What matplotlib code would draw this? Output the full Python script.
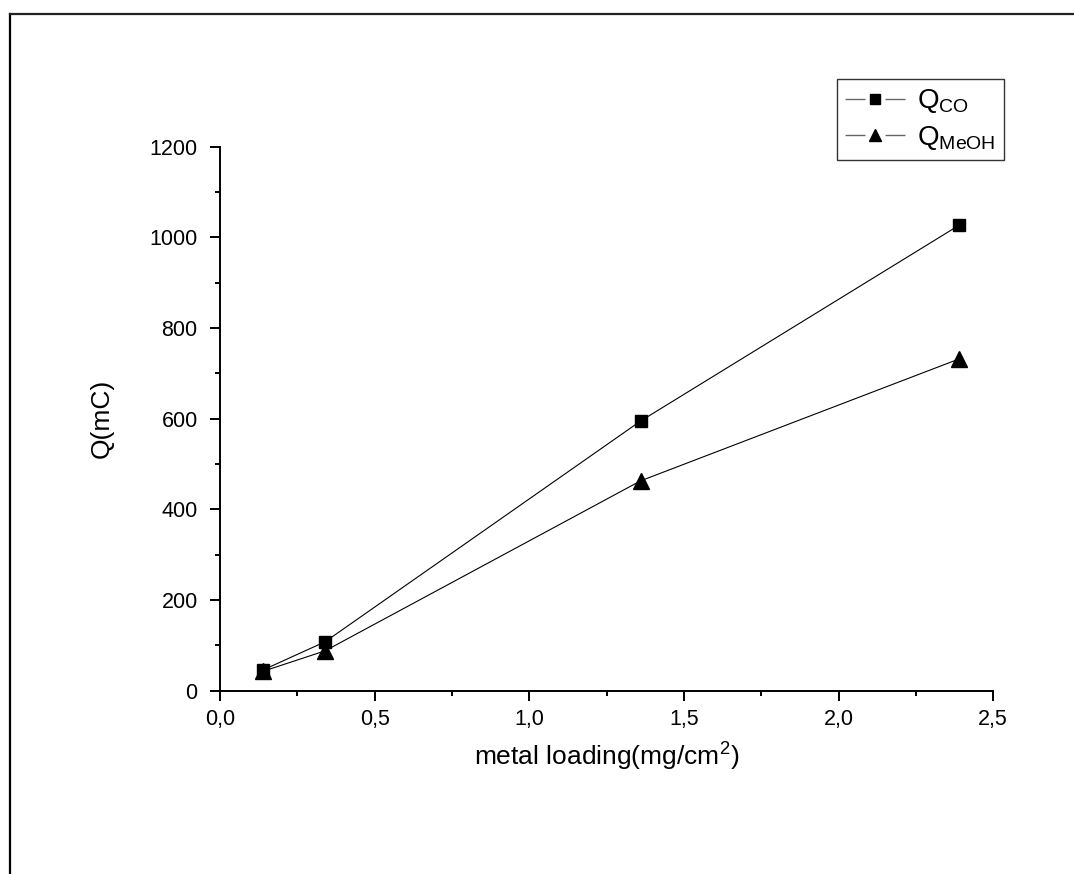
import matplotlib.pyplot as plt
from matplotlib.lines import Line2D
from matplotlib.legend_handler import HandlerTuple
from matplotlib.ticker import MultipleLocator, FuncFormatter

plt.rcParams['font.family'] = ['Liberation Sans', 'DejaVu Sans']
plt.rcParams['mathtext.fontset'] = 'custom'
plt.rcParams['mathtext.rm'] = 'Liberation Sans'
plt.rcParams['mathtext.it'] = 'Liberation Sans'
plt.rcParams['lines.scale_dashes'] = False

# metal loading (mg/cm2) and charge (mC)
loading = [0.14, 0.34, 1.36, 2.39]
q_co = [46, 108, 595, 1027]
q_meoh = [43, 88, 463, 732]
labels = [r'Q$_{\mathrm{CO}}$', r'Q$_{\mathrm{MeOH}}$']
markers = ['s', '^']
msizes = [8.5, 11]

fig = plt.figure(figsize=(10.74, 8.74), dpi=100)
ax = fig.add_axes([0.2048, 0.2097, 0.72, 0.6224])

for q, m, ms in zip([q_co, q_meoh], markers, msizes):
    ax.plot(loading, q, '-', color='black', lw=0.8, marker=m, ms=ms)

ax.set_xlim(0, 2.5)
ax.set_ylim(0, 1200)
ax.xaxis.set_major_locator(MultipleLocator(0.5))
ax.xaxis.set_minor_locator(MultipleLocator(0.25))
ax.yaxis.set_major_locator(MultipleLocator(200))
ax.yaxis.set_minor_locator(MultipleLocator(100))
ax.xaxis.set_major_formatter(FuncFormatter(lambda v, p: f"{v:.1f}".replace('.', ',')))
ax.yaxis.set_major_formatter(FuncFormatter(lambda v, p: f"{v:.0f}"))

for s in ('top', 'right'):
    ax.spines[s].set_visible(False)
for s in ('left', 'bottom'):
    ax.spines[s].set_linewidth(1.4)

ax.tick_params(which='major', direction='out', length=7, width=1.4,
               labelsize=15.5)
ax.tick_params(axis='y', which='major', pad=9)
ax.tick_params(axis='x', which='major', pad=6)
ax.tick_params(which='minor', direction='out', length=3.8, width=1.4)

ax.set_xlabel('metal loading(mg/cm$^2$)', fontsize=19, labelpad=8)
ax.set_ylabel('Q(mC)', fontsize=19, labelpad=26)

# legend keys: line broken around the marker
handles = []
for m, ms in zip(markers, msizes):
    seg = Line2D([], [], color='#666666', lw=1.0, linestyle=(0, (14.4, 14.4, 14.4, 100)))
    mk = Line2D([], [], color='black', lw=0, marker=m, ms=ms * 0.85)
    handles.append((seg, mk))

leg = ax.legend(handles, labels, handler_map={tuple: HandlerTuple(ndivide=1)},
                loc='upper right', bbox_to_anchor=(1.0138, 1.1245),
                borderaxespad=0, fontsize=20, frameon=True, fancybox=False,
                edgecolor='black', handlelength=2.2, handletextpad=0.4,
                borderpad=0.3, labelspacing=0.3)
leg.get_frame().set_linewidth(1.0)

# outer frame lines
fig.add_artist(Line2D([10 / 1074, 10 / 1074], [0, 1 - 14 / 874],
                      transform=fig.transFigure, color='black', lw=1.6))
fig.add_artist(Line2D([10 / 1074, 1], [1 - 14 / 874, 1 - 14 / 874],
                      transform=fig.transFigure, color='#222222', lw=1.6))

fig.savefig('out.png', dpi=100)
